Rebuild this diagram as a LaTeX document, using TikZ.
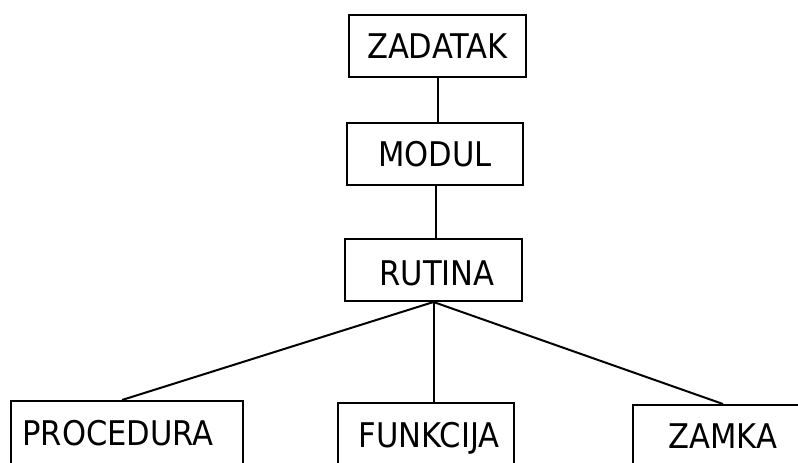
\documentclass[tikz,border=0pt]{standalone}
\usepackage{fontspec}
\newfontfamily\labfont{DejaVu Sans}[FakeStretch=0.9]
\begin{document}
\begin{tikzpicture}[x=1pt,y=-1pt,
  box/.style={draw, line width=2pt, inner sep=0pt, minimum height=62pt,
    font=\labfont\fontsize{34}{34}\selectfont, text height=24.5pt, text depth=0pt},
  link/.style={line width=2pt}]
\useasboundingbox (0,0) rectangle (798,463);
\begin{scope}
\clip (0,0) rectangle (798,463);
\node[box, minimum width=177pt] (zad) at (437.5,46) {ZADATAK};
\node[box, minimum width=176pt] (mod) at (435,154) {MODUL};
\node[box, minimum width=177pt] (rut) at (433.5,270) {\raisebox{-3pt}{\hspace*{7pt}RUTINA}};
\node[box, anchor=north, minimum width=232pt, minimum height=65pt] (proc) at (127,400) {PROCEDURA\hspace*{18pt}};
\node[box, anchor=north, minimum width=176pt, minimum height=64pt] (fun) at (426,402) {\hspace*{6pt}FUNKCIJA};
\node[box, anchor=north west, minimum width=180pt, minimum height=63pt] (zam) at (632,404) {ZAMKA};
\end{scope}
\draw[link] ([xshift=0.5pt]zad.south) -- ([xshift=0.5pt]zad.south |- mod.north);
\draw[link] ([xshift=1pt]mod.south) -- ([xshift=1pt]mod.south |- rut.north);
\draw[link] (rut.south) -- ([xshift=-5pt]proc.north);
\draw[link] (rut.south) -- (rut.south |- fun.north);
\draw[link] (rut.south) -- ([xshift=1pt]zam.north -| 722,0);
\end{tikzpicture}
\end{document}
